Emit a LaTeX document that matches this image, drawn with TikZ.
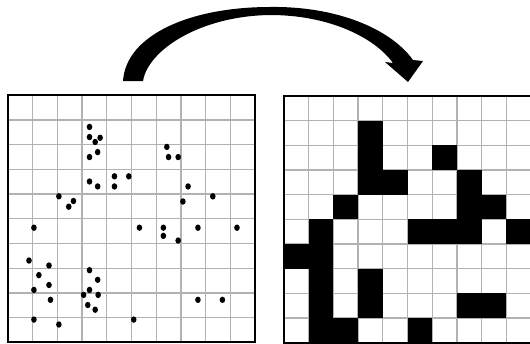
\documentclass[tikz,border=0pt]{standalone}
\usepackage{tikz}

\begin{document}
\begin{tikzpicture}[x=1pt, y=-1pt,
    gridline/.style={draw=gray!60, line width=1.3pt},
    border/.style={draw=black, line width=2pt},
    dot/.style={fill=black},
    cell/.style={fill=black}]
  \useasboundingbox (0,0) rectangle (530,343);

  % scattered points
  \begin{scope}[xshift=8pt, yshift=-95.3pt, x=24.7pt, y=-24.7pt]
    \foreach \i in {1,...,9} {
      \draw[gridline] (\i,0) -- (\i,10);
      \draw[gridline] (0,\i) -- (10,\i);
    }
    \draw[border] (0,0) rectangle (10,10);
    \foreach \u/\v in {3.30/1.28, 3.30/1.69, 3.73/1.72, 3.53/1.89, 3.63/2.30, 3.30/2.50,
        6.43/2.09, 6.50/2.50, 6.89/2.50, 4.31/3.28, 4.89/3.28, 4.31/3.69,
        3.30/3.49, 3.63/3.69, 7.29/3.69, 2.06/4.09, 2.65/4.28, 2.46/4.51,
        7.08/4.30, 8.29/4.09, 1.05/5.36, 5.32/5.36, 6.29/5.36, 7.69/5.36,
        9.27/5.36, 6.29/5.69, 6.89/5.88, 0.85/6.69, 1.66/6.89, 3.30/7.08,
        1.25/7.28, 3.63/7.47, 1.66/7.68, 1.05/7.88, 3.30/7.88, 3.06/8.08,
        3.65/8.08, 1.72/8.28, 3.23/8.49, 3.53/8.68, 7.69/8.28, 8.68/8.28,
        1.05/9.08, 2.06/9.28, 5.09/9.08}
      \fill[dot] (\u,\v) circle[x radius=2.8pt, y radius=3.2pt];
  \end{scope}

  % occupied cells
  \begin{scope}[xshift=284pt, yshift=-95.8pt, x=24.7pt, y=-24.7pt]
    \foreach \i in {1,...,9} {
      \draw[gridline] (\i,0) -- (\i,10);
      \draw[gridline] (0,\i) -- (10,\i);
    }
    \foreach \c/\r in {3/1, 3/2, 6/2, 3/3, 4/3, 7/3, 2/4, 7/4, 8/4,
        1/5, 5/5, 6/5, 7/5, 9/5, 0/6, 1/6, 1/7, 3/7,
        1/8, 3/8, 7/8, 8/8, 1/9, 2/9, 5/9}
      \fill[cell] (\c,\r) rectangle ++(1,1);
    \draw[border] (0,0) rectangle (10,10);
  \end{scope}

  % curved arrow
  \fill (123,81) .. controls (126,35) and (190,7) .. (270,7)
        .. controls (335,6) and (390,28) .. (413,60)
        -- (423,61) -- (408,82) -- (385,62) -- (393,63)
        .. controls (375,38) and (330,15) .. (270,15)
        .. controls (200,16) and (148,50) .. (143,81) -- cycle;
\end{tikzpicture}
\end{document}
